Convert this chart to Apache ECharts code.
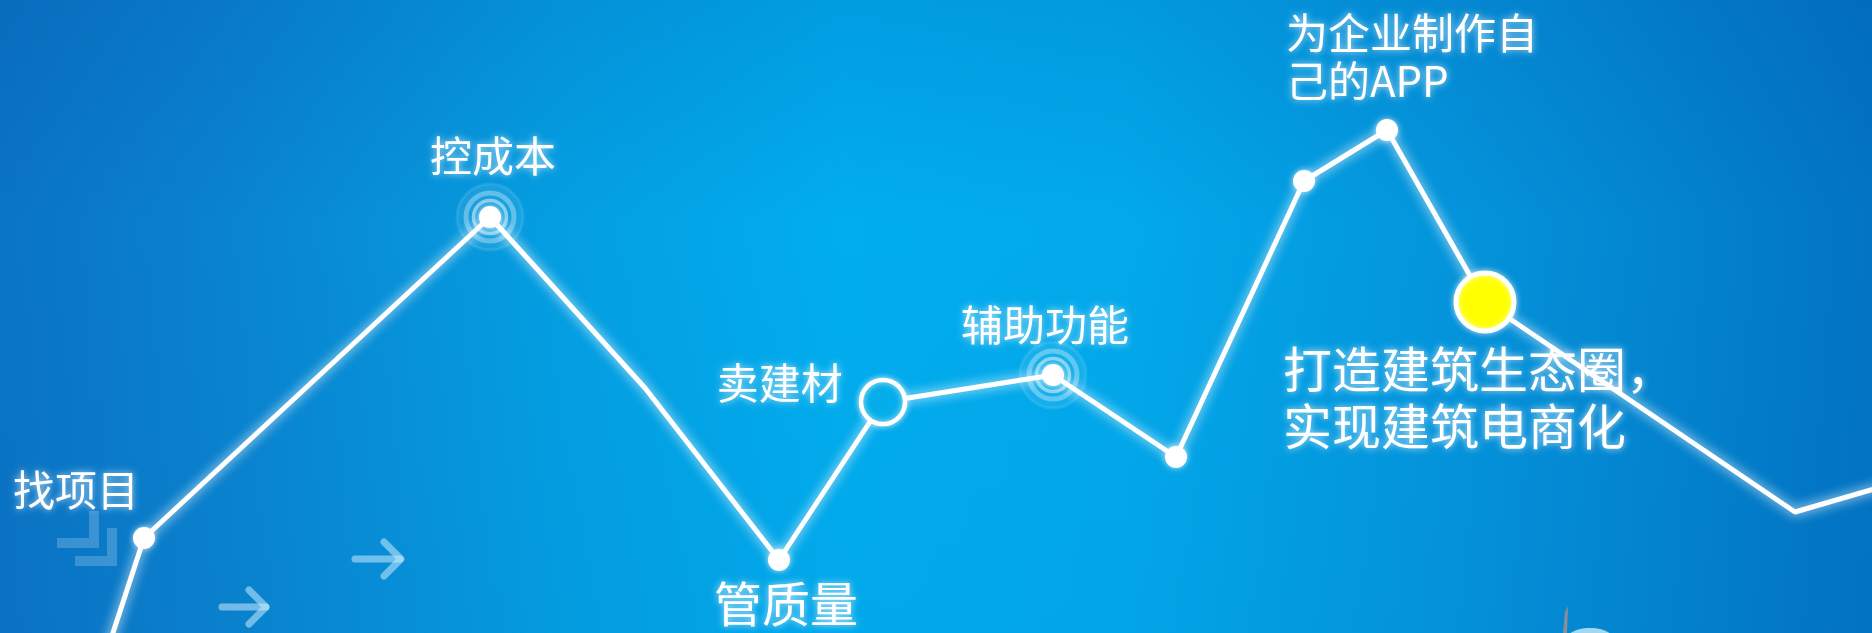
<!DOCTYPE html>
<html>
<head>
<meta charset="utf-8">
<script src="https://cdn.jsdelivr.net/npm/echarts@6/dist/echarts.min.js"></script>
<style>
html,body{margin:0;padding:0;width:1872px;height:633px;overflow:hidden;background:#0a8ad4;}
#c{width:1872px;height:633px;}
</style>
</head>
<body>
<div id="c"></div>
<script>
// ---- data (horizontal position, height) ----
const xs = [91, 144, 490, 645, 779, 883, 1053, 1176, 1304, 1387, 1485, 1795, 1950];
const ys = [-67, 95, 416, 245, 73, 231, 258, 176, 452, 503, 331, 121, 166];
const names = ['', '找项目', '控成本', '', '管质量', '卖建材', '辅助功能', '', '', '为企业制作自\n己的APP', '打造建筑生态圈，\n实现建筑电商化', '', ''];
const hiddenIdx = [0, 3, 11, 12];
const rippleIdx = [2, 6];
const hollowIdx = 5;
const highlightIdx = 10;

// ---- label styles ----
const labelCfg = {
  1: {position: 'left', distance: 0, fontSize: 42},
  2: {position: 'top', distance: 29, fontSize: 42},
  4: {position: 'bottom', distance: 9, fontSize: 48},
  5: {position: 'left', distance: 16, fontSize: 42},
  6: {position: 'top', distance: 18, fontSize: 42},
  9: {position: 'top', distance: 14, align: 'left', fontSize: 42, lineHeight: 48},
  10: {position: 'bottom', distance: 7, align: 'left', fontSize: 49, lineHeight: 57}
};
const labelShift = {
  1: [6, -48],
  2: [3, 0],
  4: [7, 0],
  5: [0, -19],
  6: [-8, 0],
  9: [-101, 0],
  10: [-202, 0]
};

const FONT = '"Noto Sans CJK SC", "Noto Sans", sans-serif';

const lineData = xs.map((x, i) => {
  const item = {value: [x, ys[i]], name: names[i]};
  if (hiddenIdx.includes(i)) item.symbol = 'none';
  if (i === hollowIdx) {
    item.symbolSize = 44;
    item.itemStyle = {color: '#05aeeb', borderColor: '#ffffff', borderWidth: 4.5};
  }
  if (i === highlightIdx) {
    item.symbolSize = 58;
    item.itemStyle = {color: '#ffff00', borderColor: '#ffffff', borderWidth: 5, shadowBlur: 6, shadowColor: 'rgba(255,255,255,0.6)'};
  }
  if (labelCfg[i]) {
    item.label = Object.assign({
      show: true,
      formatter: '{b}',
      color: '#ffffff',
      fontFamily: FONT,
      textShadowColor: 'rgba(255,255,255,0.75)',
      textShadowBlur: 7
    }, labelCfg[i]);
  }
  return item;
});

const rippleData = rippleIdx.map(i => [xs[i], ys[i]]);

const chart = echarts.init(document.getElementById('c'), null, {renderer: 'canvas'});

const option = {
  animation: false,
  backgroundColor: {
    type: 'linear', x: 0, y: 0, x2: 1, y2: 0,
    colorStops: [
      {offset: 0, color: '#0a74c4'},
      {offset: 0.12, color: '#0a83cf'},
      {offset: 0.3, color: '#049fe2'},
      {offset: 0.45, color: '#01adee'},
      {offset: 0.6, color: '#02a9eb'},
      {offset: 0.78, color: '#0494db'},
      {offset: 1, color: '#0274c3'}
    ]
  },
  grid: {left: 0, right: 0, top: 0, bottom: 0},
  xAxis: {type: 'value', min: 0, max: 1872, show: false},
  yAxis: {type: 'value', min: 0, max: 633, show: false},
  graphic: [
    {
      type: 'rect', z: -10, silent: true,
      shape: {x: 0, y: 0, width: 1872, height: 633},
      style: {
        fill: {
          type: 'linear', x: 0, y: 0, x2: 0, y2: 1,
          colorStops: [
            {offset: 0, color: 'rgba(0,60,150,0.14)'},
            {offset: 0.35, color: 'rgba(0,60,150,0)'},
            {offset: 1, color: 'rgba(0,60,150,0.04)'}
          ]
        }
      }
    },
    // chevrons
    {type: 'polyline', z: -5, silent: true, shape: {points: [[57, 543], [94, 543], [94, 511]]},
     style: {stroke: 'rgba(255,255,255,0.2)', lineWidth: 10, fill: null}},
    {type: 'polyline', z: -5, silent: true, shape: {points: [[75, 561], [112, 561], [112, 528]]},
     style: {stroke: 'rgba(255,255,255,0.2)', lineWidth: 10, fill: null}},
    // arrows
    {type: 'polyline', z: -5, silent: true, shape: {points: [[355, 559], [400, 559]]},
     style: {stroke: 'rgba(200,235,255,0.55)', lineWidth: 7, lineCap: 'round', fill: null}},
    {type: 'polyline', z: -5, silent: true, shape: {points: [[384, 542], [401, 559], [384, 576]]},
     style: {stroke: 'rgba(200,235,255,0.55)', lineWidth: 7, lineCap: 'round', lineJoin: 'round', fill: null}},
    {type: 'polyline', z: -5, silent: true, shape: {points: [[222, 607], [266, 607]]},
     style: {stroke: 'rgba(200,235,255,0.55)', lineWidth: 7, lineCap: 'round', fill: null}},
    {type: 'polyline', z: -5, silent: true, shape: {points: [[249, 590], [266, 607], [249, 624]]},
     style: {stroke: 'rgba(200,235,255,0.55)', lineWidth: 7, lineCap: 'round', lineJoin: 'round', fill: null}},
    // bottom-right ornament
    {type: 'polygon', z: -4, silent: true, shape: {points: [[1563, 633], [1565, 612], [1568, 606], [1567, 633]]},
     style: {fill: '#8a8f96'}},
    {type: 'ellipse', z: -4, silent: true, shape: {cx: 1590, cy: 640, rx: 24, ry: 12},
     style: {fill: '#9fd8f0'}}
  ],
  series: [
    {
      type: 'scatter', z: 1, silent: true,
      data: rippleData, symbol: 'circle', symbolSize: 66,
      itemStyle: {color: 'rgba(255,255,255,0.1)', borderColor: 'rgba(255,255,255,0.12)', borderWidth: 3}
    },
    {
      type: 'scatter', z: 1, silent: true,
      data: rippleData, symbol: 'circle', symbolSize: 48,
      itemStyle: {color: 'rgba(255,255,255,0)', borderColor: 'rgba(255,255,255,0.4)', borderWidth: 5}
    },
    {
      type: 'scatter', z: 1, silent: true,
      data: rippleData, symbol: 'circle', symbolSize: 33,
      itemStyle: {color: 'rgba(255,255,255,0)', borderColor: 'rgba(255,255,255,0.6)', borderWidth: 3.5}
    },
    {
      type: 'line', z: 3,
      data: lineData,
      showAllSymbol: true,
      symbol: 'circle',
      symbolSize: 22,
      clip: true,
      itemStyle: {color: '#ffffff', shadowBlur: 6, shadowColor: 'rgba(255,255,255,0.7)'},
      lineStyle: {color: '#ffffff', width: 5, shadowColor: 'rgba(255,255,255,0.95)', shadowBlur: 12},
      label: {show: false},
      labelLayout: function (params) {
        const s = labelShift[params.dataIndex];
        return s ? {dx: s[0], dy: s[1], hideOverlap: false} : {hideOverlap: false};
      }
    }
  ]
};
chart.setOption(option);
</script>
</body>
</html>
